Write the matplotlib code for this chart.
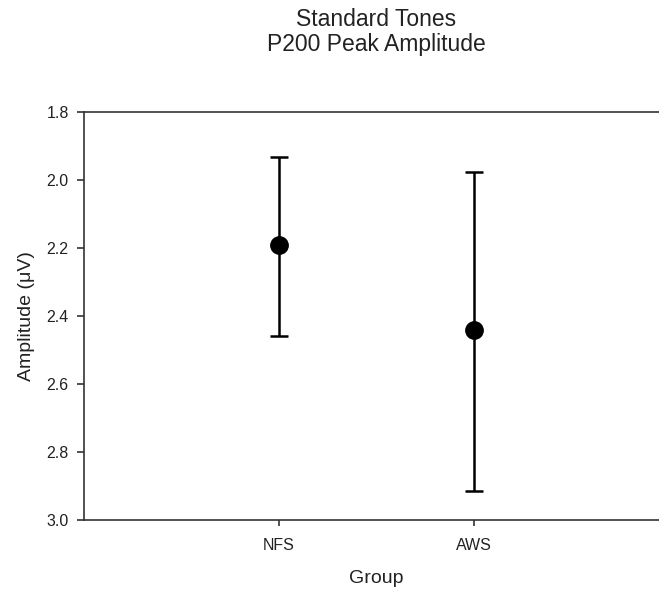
import matplotlib
matplotlib.use("Agg")
import matplotlib.pyplot as plt

plt.rcParams['font.family'] = ['Liberation Sans', 'DejaVu Sans']

groups = ['NFS', 'AWS']
means = [2.193, 2.442]
upper = [1.932, 1.976]
lower = [2.460, 2.915]
yticks = [1.8, 2.0, 2.2, 2.4, 2.6, 2.8, 3.0]

W, H = 659, 592
fig = plt.figure(figsize=(W / 100, H / 100), dpi=100)
left, right, top, bottom = 84, 669, 111.7, 520
ax = fig.add_axes([left / W, 1 - bottom / H, (right - left) / W, (bottom - top) / H])

xpos = [1, 2]
err = [[m - u for m, u in zip(means, upper)], [l - m for m, l in zip(means, lower)]]
ax.errorbar(xpos, means, yerr=err, fmt='o', color='black', markersize=12.5,
            elinewidth=1.8, capsize=6.5, capthick=1.8)

ax.set_xlim(0, 3)
ax.set_ylim(3.0, 1.8)
ax.set_yticks(yticks)
ax.set_yticklabels([f'{v:.1f}' for v in yticks])
ax.set_xticks(xpos)
ax.set_xticklabels(groups)

spine_c = '#333333'
for s in ['left', 'bottom', 'top']:
    ax.spines[s].set_color(spine_c)
    ax.spines[s].set_linewidth(1.2)
ax.spines['right'].set_visible(False)
ax.tick_params(axis='y', direction='out', length=5, width=1.2, color=spine_c,
               labelsize=11.5, pad=6, colors='#222222')
ax.tick_params(axis='x', direction='out', length=4, width=1.2, color=spine_c,
               labelsize=11.5, pad=9, colors='#222222')

ax.set_xlabel('Group', fontsize=14, labelpad=12, color='#222222')
ax.set_ylabel('Amplitude (\u03bcV)', fontsize=14, labelpad=8, color='#222222')

fig.text(376 / W, 1 - 26 / H, 'Standard Tones', ha='center', va='baseline',
         fontsize=16.5, color='#222222')
fig.text(376 / W, 1 - 51 / H, 'P200 Peak Amplitude', ha='center', va='baseline',
         fontsize=16.5, color='#222222')

fig.savefig('out.png', dpi=100)
